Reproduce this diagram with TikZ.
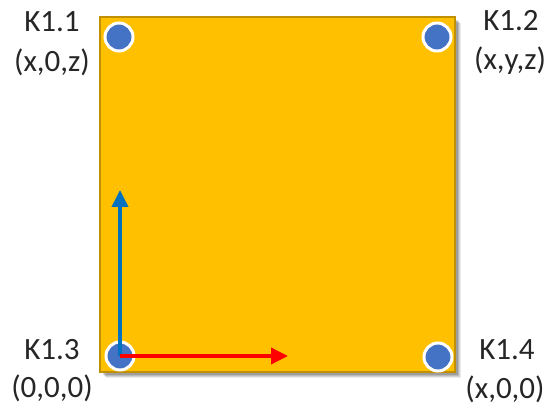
\documentclass[tikz,border=0pt]{standalone}
\usepackage{fontspec}
\setmainfont{Carlito}
\usetikzlibrary{arrows.meta}
\definecolor{gold}{HTML}{FFC000}
\definecolor{goldedge}{HTML}{C09000}
\definecolor{dotblue}{HTML}{4472C4}
\definecolor{axisblue}{HTML}{0070C0}
\begin{document}
\begin{tikzpicture}[x=1pt,y=-1pt,
  dot/.style={circle,fill=dotblue,draw=white,line width=3pt,minimum size=28pt,inner sep=0pt},
  lbl/.style={font=\fontsize{31}{38}\selectfont,text=black!85,anchor=base,inner sep=0pt},
  axis/.style={line width=3.6pt,-{Triangle[length=17pt,width=16pt]}}]
\useasboundingbox (0,0) rectangle (552,411);
% shadow
\foreach \o/\a in {6/0.08,5/0.10,4/0.12,3/0.15}
  \fill[black,opacity=\a] (100+\o,17+\o) rectangle (455+\o,372+\o);
\node[draw=goldedge,fill=gold,line width=1.5pt,minimum width=355pt,minimum height=355pt,inner sep=0pt] (sq) at (277.5,194.5) {};
\node[dot] (c1) at (119,37) {};
\node[dot] (c2) at (437,37) {};
\node[dot] (c3) at (120,356) {};
\node[dot] (c4) at (438,357) {};
\coordinate (ytip) at (120,190);
\coordinate (xtip) at (288,356);
\draw[axis,axisblue] (c3.center) -- (ytip);
\draw[axis,red] (c3.center) -- (xtip);
\node[lbl] (l1a) at (52,32) {K1.1};
\node[lbl] (l1b) at (52,72) {(x,0,z)};
\node[lbl] (l2a) at (511,31) {K1.2};
\node[lbl] (l2b) at (510,70) {(x,y,z)};
\node[lbl] (l3a) at (52,360) {K1.3};
\node[lbl] (l3b) at (52,398) {(0,0,0)};
\node[lbl] (l4a) at (507,360) {K1.4};
\node[lbl] (l4b) at (505,399) {(x,0,0)};
\end{tikzpicture}
\end{document}
